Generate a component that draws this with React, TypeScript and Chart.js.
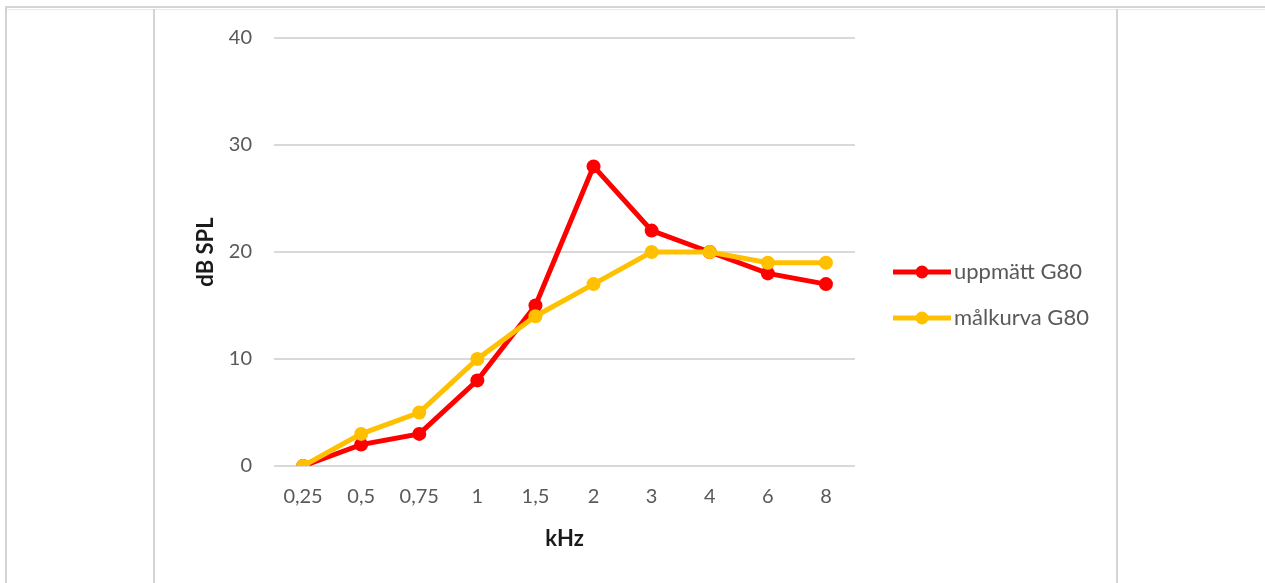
import React, { useEffect, useRef } from "react";
import { Chart, registerables } from "chart.js";

Chart.register(...registerables);

const categories = ["0,25", "0,5", "0,75", "1", "1,5", "2", "3", "4", "6", "8"];
const measured = [0, 2, 3, 8, 15, 28, 22, 20, 18, 17];
const target = [0, 3, 5, 10, 14, 17, 20, 20, 19, 19];
const seriesNames = ["uppmätt G80", "målkurva G80"];
const seriesColors = ["#FF0000", "#FFC000"];
const yTicks = [0, 10, 20, 30, 40];

const FONT = "Lato, 'Open Sans', sans-serif";

const legendPlugin = {
  id: "customLegend",
  afterDraw(chart: any) {
    const ctx = chart.ctx;
    const x0 = 737;
    const x1 = 795;
    const ys = [268, 314];
    chart.data.datasets.forEach((ds: any, i: number) => {
      const y = ys[i];
      ctx.save();
      ctx.strokeStyle = ds.borderColor;
      ctx.lineWidth = 5;
      ctx.beginPath();
      ctx.moveTo(x0, y);
      ctx.lineTo(x1, y);
      ctx.stroke();
      ctx.fillStyle = ds.borderColor;
      ctx.beginPath();
      ctx.arc((x0 + x1) / 2, y, 6.5, 0, Math.PI * 2);
      ctx.fill();
      ctx.fillStyle = "#595959";
      ctx.font = "22px " + FONT;
      ctx.textBaseline = "middle";
      ctx.textAlign = "left";
      ctx.fillText(ds.label, x1 + 3, y);
      ctx.restore();
    });
  },
};

export default function App() {
  const ref = useRef<HTMLCanvasElement>(null);
  useEffect(() => {
    if (!ref.current) return;
    const chart = new Chart(ref.current, {
      type: "line",
      data: {
        labels: categories,
        datasets: [
          {
            label: seriesNames[0],
            data: measured,
            borderColor: seriesColors[0],
            backgroundColor: seriesColors[0],
            borderWidth: 5,
            pointRadius: 7,
            pointBorderWidth: 0,
            pointBackgroundColor: seriesColors[0],
            tension: 0,
            order: 1,
          },
          {
            label: seriesNames[1],
            data: target,
            borderColor: seriesColors[1],
            backgroundColor: seriesColors[1],
            borderWidth: 5,
            pointRadius: 7,
            pointBorderWidth: 0,
            pointBackgroundColor: seriesColors[1],
            tension: 0,
            order: 0,
          },
        ],
      },
      options: {
        animation: false,
        responsive: false,
        maintainAspectRatio: false,
        layout: { padding: { left: 37, right: 261, top: 23, bottom: 31 } },
        plugins: {
          legend: { display: false },
          tooltip: { enabled: false },
        },
        scales: {
          x: {
            offset: true,
            grid: { display: false, drawTicks: false },
            border: { display: false },
            ticks: {
              color: "#595959",
              font: { family: FONT, size: 20 },
              padding: 19,
              maxRotation: 0,
              autoSkip: false,
            },
            title: {
              display: true,
              text: "kHz",
              color: "#1A1A1A",
              font: { family: FONT, size: 22, weight: "bold" },
              padding: 0,
            },
            afterFit: (s: any) => {
              s.height = 86;
            },
          },
          y: {
            min: 0,
            max: 40,
            afterBuildTicks: (s: any) => {
              s.ticks = yTicks.map((v) => ({ value: v }));
            },
            grid: { color: "#D9D9D9", lineWidth: 2, drawTicks: false },
            border: { display: false },
            ticks: {
              color: "#595959",
              font: { family: FONT, size: 20 },
              padding: 22,
            },
            title: {
              display: true,
              text: "dB SPL",
              color: "#1A1A1A",
              font: { family: FONT, size: 22, weight: "bold" },
              padding: 0,
            },
            afterFit: (s: any) => {
              s.width = 81;
            },
          },
        },
      },
      plugins: [legendPlugin],
    });
    return () => chart.destroy();
  }, []);

  const line = "#D4D4D4";
  return (
    <div style={{ position: "fixed", left: 0, top: 0, width: 1265, height: 583, background: "#fff", overflow: "hidden" }}>
      <canvas ref={ref} width={960} height={579} style={{ position: "absolute", left: 156, top: 4, width: 960, height: 579 }} />
      <div style={{ position: "absolute", left: 5, top: 6, width: 1260, height: 2, background: line }} />
      <div style={{ position: "absolute", left: 5, top: 6, width: 2, height: 577, background: line }} />
      <div style={{ position: "absolute", left: 7, top: 9, width: 1258, height: 1, background: "#EBEBEB" }} />
      <div style={{ position: "absolute", left: 153, top: 9, width: 2, height: 574, background: line }} />
      <div style={{ position: "absolute", left: 1116, top: 9, width: 2, height: 574, background: line }} />
    </div>
  );
}
